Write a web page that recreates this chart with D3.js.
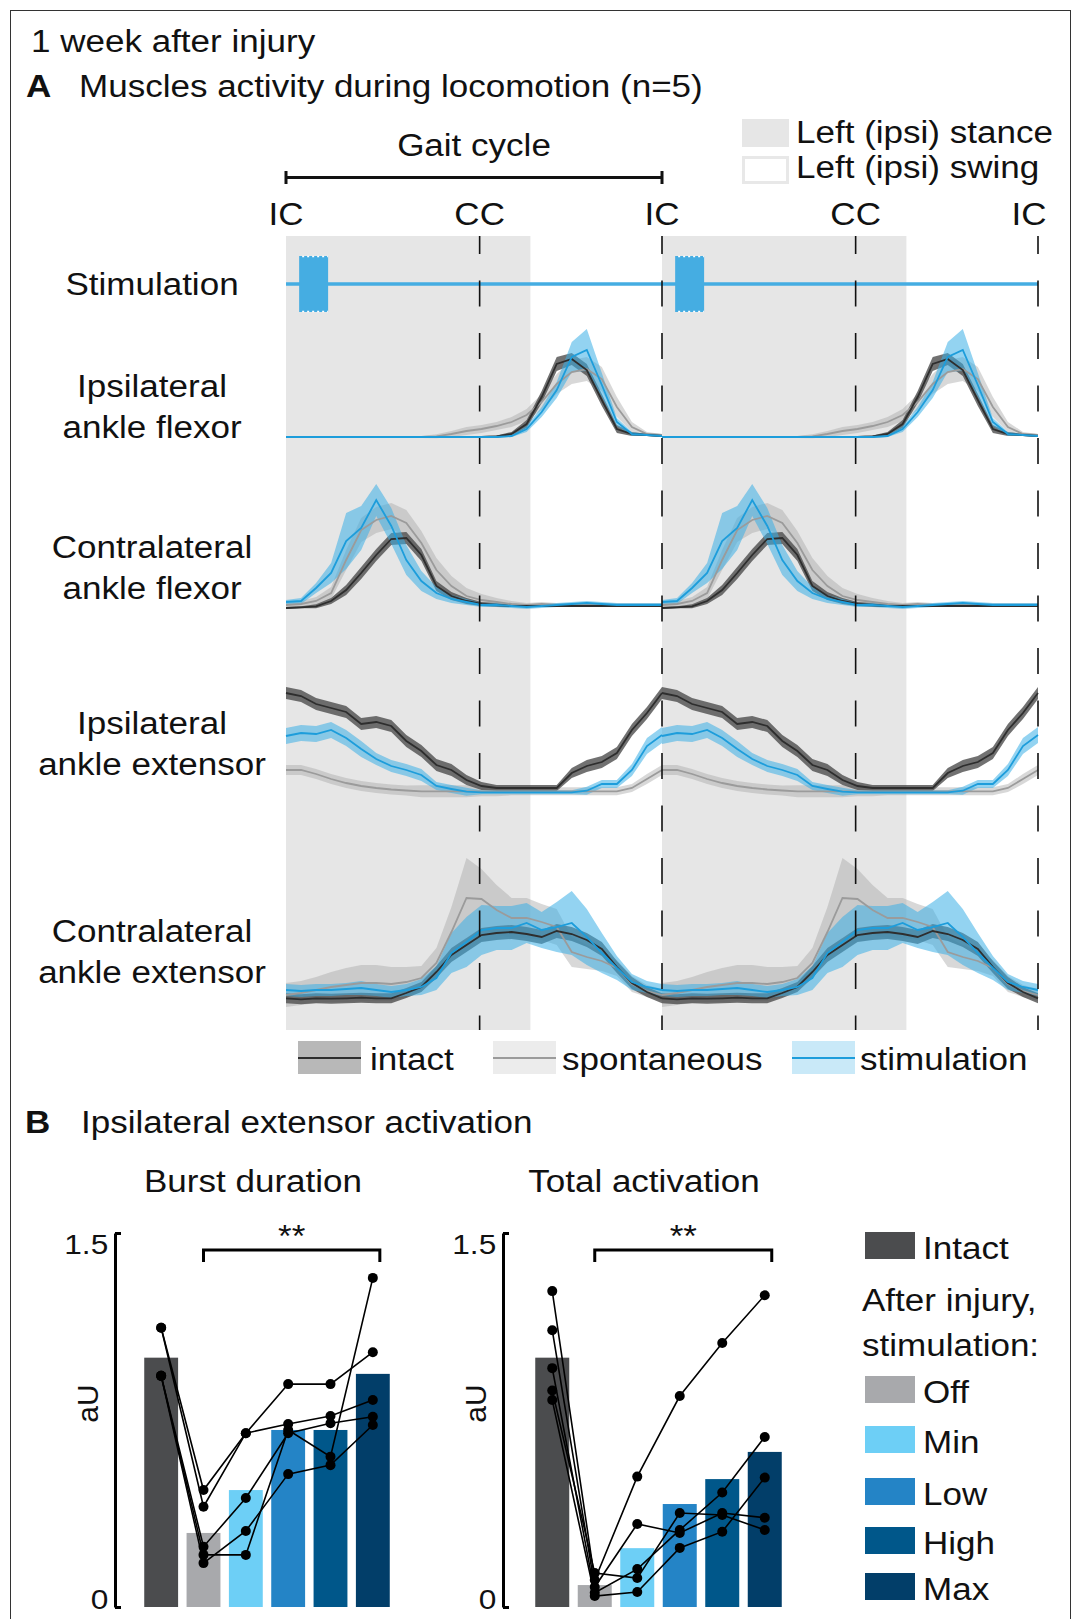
<!DOCTYPE html>
<html>
<head>
<meta charset="utf-8">
<script src="https://cdn.jsdelivr.net/npm/d3@7"></script>
<style>
  body { margin: 0; background: #fff; }
  svg text { font-family: "Liberation Sans", Arial, sans-serif; fill: #111; }
</style>
</head>
<body>
<div id="chart"></div>
<script>
// ---- panel A data: one gait cycle, sampled every 4 % (values in row units) ----
const pct = d3.range(0, 101, 4);
const phasePct = [0, 51.5, 100, 151.5, 200];
const phaseLabels = ["IC", "CC", "IC", "CC", "IC"];
const stanceEnd = 65;
const stimTrain = [[3.5, 11.2], [103.5, 111.2]];
const stimHeight = 28;

const ipsiFlexIntact   = [0,0,0,0,0,0,0,0,0,0,0,0,0,0,0.5,3,13,40,73,78,67,37,8,3,2,1];
const ipsiFlexIntactSd = [1,1,1,1,1,1,1,1,1,1,1,1,1,1,1,2,4,6,7,6,6,6,4,2,1,1];
const ipsiFlexSpont    = [0,0,0,0,0,0,0,0,0,0,0.7,3,6,8,11,15,22,35,53,65,68,58,30,10,3,2];
const ipsiFlexSpontSd  = [1,1,1,1,1,1,1,1,1,1,2,3,4,4,4,5,6,8,10,12,12,12,10,5,2,1];
const ipsiFlexStim     = [0,0,0,0,0,0,0,0,0,0,0,0,0,0,0,1,8,25,47,80,87,52,15,3,2,1];
const ipsiFlexStimSd   = [1,1,1,1,1,1,1,1,1,1,1,1,1,1,1,1,3,5,8,15,21,12,4,2,1,1];

const contraFlexIntact   = [0,0.7,1.7,7,18,35,53,69,70,53,22,12,7,4,3,2,2,2,2,2,2,2,2,2,2,2];
const contraFlexIntactSd = [1,1,2,3,5,6,6,6,6,6,5,4,3,2,2,1,1,1,1,1,1,1,1,1,1,1];
const contraFlexSpont    = [3,4,7,15,48,78,88,92,85,65,38,22,12,8,6,4,3,4,3,3,3,3,3,3,3,3];
const contraFlexSpontSd  = [2,3,4,6,10,12,13,13,13,12,12,10,8,6,4,3,2,2,2,2,2,2,2,2,2,2];
const contraFlexStim     = [6,7,20,35,67,80,108,82,48,27,15,9,6,3,3,2,1,2,3,4,5,4,3,3,3,3];
const contraFlexStimSd   = [2,3,5,10,28,22,16,18,15,10,6,4,3,2,2,2,2,2,2,2,2,2,2,2,2,2];

const ipsiExtIntact   = [100,97,89,85,81,69,71,67,52,42,28,23,13,7,5,5,5,5,5,20,27,31,40,63,80,100];
const ipsiExtIntactSd = [6,6,6,6,6,6,6,6,6,6,6,6,5,4,3,3,3,3,3,5,6,6,6,6,6,6];
const ipsiExtSpont    = [23,23,19,14,10,7,5,3.5,2.5,1.7,1.7,1.7,1.7,1.7,1.7,1.7,1.7,1.7,1.7,1.7,1.7,1.7,1.7,5,14,23];
const ipsiExtSpontSd  = [5,5,5,5,5,5,5,5,5,6,6,6,6,5,5,4,4,4,4,4,4,4,4,4,5,5];
const ipsiExtStim     = [57,60,59,63,55,44,34,27,23,18,7,4,1.3,0.7,0.7,0.7,0.7,0.7,0.7,0.7,2.3,9,9,23,47,58];
const ipsiExtStimSd   = [8,8,8,8,8,8,6,6,6,6,4,4,4,2,2,2,2,2,2,2,4,4,4,6,8,8];

const contraExtIntact   = [1.7,0.7,1.7,1.3,1.7,2.3,1.7,1.7,7,13,28,45,55,65,67,68,66,63,69,66,60,51,33,17,8,1.7];
const contraExtIntactSd = [5,5,5,5,5,5,5,5,5,5,6,7,7,7,7,7,7,7,7,7,7,7,6,6,5,5];
const contraExtSpont    = [5,7,10,13,15,17,17,16,18,22,37,68,102,101,90,82,82,78,73,48,43,39,32,16,9,5];
const contraExtSpontSd  = [12,12,13,15,17,18,18,17,15,12,15,25,40,30,25,20,20,18,18,15,12,10,8,8,6,6];
const contraExtStim     = [10,9,10,10,11,12,10,8,10,13,22,47,58,70,72,72,77,70,73,77,63,47,32,18,13,10];
const contraExtStimSd   = [6,6,6,6,6,7,6,6,6,8,12,20,25,25,22,22,20,18,25,32,28,20,12,8,6,6];

// ---- panel B data ----
const groups = ["Intact", "Off", "Min", "Low", "High", "Max"];
const groupColors = ["#4b4c4e", "#a8a9ac", "#6dcff6", "#2484c6", "#00578a", "#023e69"];
const burstMeans = [1.0, 0.297, 0.469, 0.71, 0.71, 0.935];
const burstAnimals = [
  [1.12, 0.469, 0.697, 0.894, 0.894, 1.022],
  [1.12, 0.402, 0.697, 0.734, 0.766, 0.83],
  [0.927, 0.242, 0.437, 0.697, 0.737, 0.763],
  [0.927, 0.209, 0.209, 0.71, 0.603, 1.32],
  [0.927, 0.176, 0.305, 0.533, 0.569, 0.73]
];
const totalMeans = [1.0, 0.088, 0.236, 0.413, 0.513, 0.622];
const totalAnimals = [
  [1.267, 0.108, 0.523, 0.846, 1.059, 1.25],
  [1.11, 0.08, 0.333, 0.297, 0.377, 0.358],
  [0.958, 0.057, 0.152, 0.309, 0.459, 0.682],
  [0.868, 0.136, 0.116, 0.377, 0.369, 0.309],
  [0.83, 0.044, 0.06, 0.237, 0.302, 0.519]
];

const SX = 1.13;
const svg = d3.select("#chart").append("svg")
  .attr("width", 1076).attr("height", 1619);

function txt(sel, x, y, s, opt = {}) {
  return sel.append("text")
    .attr("transform", `translate(${x},${y}) scale(${SX},1)`)
    .attr("text-anchor", opt.anchor || "start")
    .style("font-size", (opt.size || 31) + "px")
    .style("font-weight", opt.bold ? "bold" : null)
    .text(s);
}

svg.append("rect")
  .attr("x", 10.5).attr("y", 10.5).attr("width", 1060).attr("height", 1640)
  .attr("fill", "none").attr("stroke", "#333").attr("stroke-width", 1);

txt(svg, 31, 52, "1 week after injury");
txt(svg, 26, 97, "A", { bold: true });
txt(svg, 79, 97, "Muscles activity during locomotion (n=5)");

// ---- panel A ----
const x = d3.scaleLinear().domain([0, 200]).range([286, 1038]);
const plotTop = 236, plotBottom = 1030;

[0, 100].forEach(c => {
  svg.append("rect")
    .attr("x", x(c)).attr("y", plotTop)
    .attr("width", x(c + stanceEnd) - x(c)).attr("height", plotBottom - plotTop)
    .attr("fill", "#e6e6e6");
});

// gait cycle bracket
txt(svg, (x(0) + x(100)) / 2, 156, "Gait cycle", { anchor: "middle" });
svg.append("path")
  .attr("d", `M${x(0)},171V184M${x(0)},177.5H${x(100)}M${x(100)},171V184`)
  .attr("stroke", "#111").attr("stroke-width", 3).attr("fill", "none");

phasePct.forEach((p, i) => {
  txt(svg, x(p) - (i === 4 ? 9 : 0), 225, phaseLabels[i], { anchor: "middle" });
});

// top-right legend
svg.append("rect").attr("x", 742).attr("y", 119).attr("width", 47).attr("height", 28).attr("fill", "#e6e6e6");
svg.append("rect").attr("x", 743.5).attr("y", 157.5).attr("width", 44).attr("height", 25)
  .attr("fill", "#fff").attr("stroke", "#e8e8e8").attr("stroke-width", 3);
txt(svg, 796, 143, "Left (ipsi) stance");
txt(svg, 796, 178, "Left (ipsi) swing");

// row labels
const labelX = 152;
txt(svg, labelX, 295, "Stimulation", { anchor: "middle" });
[["Ipsilateral", "ankle flexor", 397], ["Contralateral", "ankle flexor", 558],
 ["Ipsilateral", "ankle extensor", 734], ["Contralateral", "ankle extensor", 942]]
  .forEach(([a, b, y]) => {
    txt(svg, labelX, y, a, { anchor: "middle" });
    txt(svg, labelX, y + 41, b, { anchor: "middle" });
  });

// stimulation trace
const yStim = d3.scaleLinear().domain([0, 100]).range([284, 184]);
svg.append("line")
  .attr("x1", x(0)).attr("x2", x(200)).attr("y1", yStim(0)).attr("y2", yStim(0))
  .attr("stroke", "#45ade2").attr("stroke-width", 3.5);
stimTrain.forEach(([a, b]) => {
  svg.append("rect")
    .attr("x", x(a)).attr("width", x(b) - x(a))
    .attr("y", yStim(stimHeight)).attr("height", yStim(-stimHeight) - yStim(stimHeight))
    .attr("fill", "#45ade2");
  [stimHeight, -stimHeight].forEach(v => {
    svg.append("line")
      .attr("x1", x(a) + 3).attr("x2", x(b)).attr("y1", yStim(v) + (v > 0 ? 0.5 : -0.5)).attr("y2", yStim(v) + (v > 0 ? 0.5 : -0.5))
      .attr("stroke", "#fff").attr("stroke-width", 1.5).attr("stroke-dasharray", "2,3");
  });
});

// muscle rows
const conds = [
  { key: "spont", fill: "#a9a9a9", op: 0.45, line: "#9b9b9b" },
  { key: "intact", fill: "#4d4d4d", op: 0.8, line: "#2e2e2e" },
  { key: "stim", fill: "#3aaee6", op: 0.55, line: "#1d9ddb" }
];
const rows = [
  { base: 437, intact: [ipsiFlexIntact, ipsiFlexIntactSd], spont: [ipsiFlexSpont, ipsiFlexSpontSd], stim: [ipsiFlexStim, ipsiFlexStimSd] },
  { base: 608, intact: [contraFlexIntact, contraFlexIntactSd], spont: [contraFlexSpont, contraFlexSpontSd], stim: [contraFlexStim, contraFlexStimSd] },
  { base: 793, intact: [ipsiExtIntact, ipsiExtIntactSd], spont: [ipsiExtSpont, ipsiExtSpontSd], stim: [ipsiExtStim, ipsiExtStimSd] },
  { base: 1000, intact: [contraExtIntact, contraExtIntactSd], spont: [contraExtSpont, contraExtSpontSd], stim: [contraExtStim, contraExtStimSd] }
];

rows.forEach(row => {
  const y = d3.scaleLinear().domain([0, 100]).range([row.base, row.base - 100]);
  const area = d3.area().x(d => x(d.p)).y0(d => y(d.m - d.s)).y1(d => y(d.m + d.s));
  const line = d3.line().x(d => x(d.p)).y(d => y(d.m));
  const series = c => [0, 100].map(off => pct.map((p, i) => ({ p: p + off, m: row[c.key][0][i], s: row[c.key][1][i] })));
  conds.forEach(c => {
    series(c).forEach(pts => {
      svg.append("path").attr("d", area(pts)).attr("fill", c.fill).attr("fill-opacity", c.op);
    });
  });
  conds.forEach(c => {
    series(c).forEach(pts => {
      svg.append("path").attr("d", line(pts)).attr("fill", "none")
        .attr("stroke", c.line).attr("stroke-width", 1.8);
    });
  });
});

// dashed phase lines
phasePct.slice(1).forEach(p => {
  svg.append("line")
    .attr("x1", x(p)).attr("x2", x(p)).attr("y1", plotTop).attr("y2", plotBottom)
    .attr("stroke", "#111").attr("stroke-width", 1.6)
    .attr("stroke-dasharray", "26,26.5").attr("stroke-dashoffset", 8);
});

// bottom legend
const legendItems = [
  { label: "intact", c: conds[1], x: 298, tx: 370 },
  { label: "spontaneous", c: conds[0], x: 493, tx: 562 },
  { label: "stimulation", c: conds[2], x: 792, tx: 860 }
];
legendItems.forEach(d => {
  svg.append("rect").attr("x", d.x).attr("y", 1041).attr("width", 63).attr("height", 33)
    .attr("fill", d.c.fill).attr("fill-opacity", d.c.op * 0.5);
  svg.append("line").attr("x1", d.x).attr("x2", d.x + 63).attr("y1", 1058).attr("y2", 1058)
    .attr("stroke", d.c.line).attr("stroke-width", 2.2);
  txt(svg, d.tx, 1070, d.label);
});

// ---- panel B ----
txt(svg, 25, 1133, "B", { bold: true });
txt(svg, 81, 1133, "Ipsilateral extensor activation");

const yB = d3.scaleLinear().domain([0, 1.5]).range([1607, 1233]);

function barChart(title, titleX, axisX, bandRange, means, animals) {
  const g = svg.append("g");
  txt(g, titleX, 1192, title, { anchor: "middle" });

  const xb = d3.scaleBand().domain(groups).range(bandRange).paddingInner(0.2).paddingOuter(0.1);

  g.selectAll(".bar").data(means).enter().append("rect")
    .attr("x", (d, i) => xb(groups[i])).attr("width", xb.bandwidth())
    .attr("y", d => yB(d)).attr("height", d => yB(0) - yB(d))
    .attr("fill", (d, i) => groupColors[i]);

  const cx = i => xb(groups[i]) + xb.bandwidth() / 2;
  const lineGen = d3.line().x((d, i) => cx(i)).y(d => yB(d));
  animals.forEach(a => {
    g.append("path").attr("d", lineGen(a)).attr("fill", "none")
      .attr("stroke", "#000").attr("stroke-width", 1.6);
  });
  animals.forEach(a => {
    g.selectAll(null).data(a).enter().append("circle")
      .attr("cx", (d, i) => cx(i)).attr("cy", d => yB(d)).attr("r", 5).attr("fill", "#000");
  });

  // significance bracket Off vs Max
  const bx0 = cx(1), bx1 = cx(5) + 7;
  g.append("path").attr("d", `M${bx0},1262V1250H${bx1}V1262`)
    .attr("fill", "none").attr("stroke", "#000").attr("stroke-width", 3);
  txt(g, (bx0 + bx1) / 2, 1247, "**", { anchor: "middle" });

  // axis
  const ax = g.append("g").attr("transform", `translate(${axisX},0)`)
    .call(d3.axisLeft(yB).tickValues([0, 1.5]).tickFormat(d3.format("")).tickSizeInner(-6).tickSizeOuter(0).tickPadding(6));
  ax.select(".domain").attr("stroke", "#000").attr("stroke-width", 3);
  ax.selectAll(".tick line").attr("stroke", "#000").attr("stroke-width", 3);
  ax.selectAll(".tick text")
    .attr("font-family", null).attr("font-size", null)
    .style("font-size", "28px")
    .attr("transform", `scale(${SX},1)`)
    .attr("dy", d => d === 0 ? "0.05em" : "0.72em");
  g.append("text")
    .attr("transform", `translate(${axisX - 28},${yB(0.816)}) rotate(-90)`)
    .attr("text-anchor", "middle")
    .attr("dy", "0.35em")
    .style("font-size", "30px")
    .text("aU");
}

barChart("Burst duration", 253, 115, [140, 394], burstMeans, burstAnimals);
barChart("Total activation", 644, 503, [531, 786], totalMeans, totalAnimals);

// legend for panel B
const legB = [
  { label: "Intact", y: 1232 }, { label: "Off", y: 1376 }, { label: "Min", y: 1426 },
  { label: "Low", y: 1478 }, { label: "High", y: 1527 }, { label: "Max", y: 1573 }
];
legB.forEach((d, i) => {
  svg.append("rect").attr("x", 865).attr("y", d.y).attr("width", 50).attr("height", 27)
    .attr("fill", groupColors[i]);
  txt(svg, 923, d.y + 27, d.label);
});
txt(svg, 862, 1311, "After injury,");
txt(svg, 862, 1356, "stimulation:");
</script>
</body>
</html>
